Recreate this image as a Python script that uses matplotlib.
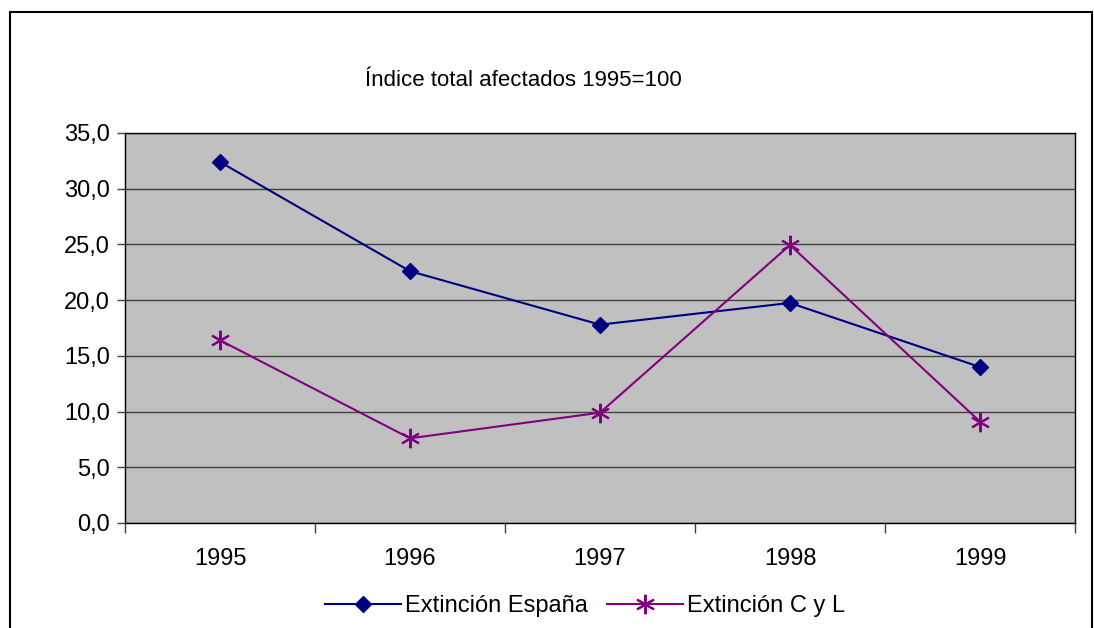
import matplotlib.pyplot as plt
from matplotlib.ticker import FixedLocator, FuncFormatter

years = ['1995', '1996', '1997', '1998', '1999']
espana = [32.4, 22.6, 17.8, 19.75, 14.0]
cyl = [16.4, 7.6, 9.9, 24.95, 9.1]
yticks = [0, 5, 10, 15, 20, 25, 30, 35]

plt.rcParams['font.family'] = ['Liberation Sans', 'DejaVu Sans']

fig = plt.figure(figsize=(10.94, 6.28), dpi=100)
fig.patch.set_facecolor('white')
ax = fig.add_axes([125 / 1094, 1 - 523 / 628, 950 / 1094, 390 / 628])
ax.set_facecolor('#C0C0C0')

# outer chart border
border = plt.Rectangle((10 / 1094, -0.05), 1082 / 1094, 1.05 - 12 / 628,
                       transform=fig.transFigure, fill=False,
                       edgecolor='black', linewidth=1.5)
fig.patches.append(border)

x = range(len(years))
ax.plot(x, espana, color='#000080', linewidth=1.5, marker='D', markersize=8,
        label='Extinción España', zorder=3)
ax.plot(x, cyl, color='#800080', linewidth=1.5, marker=(6, 2, 0), markersize=14,
        markeredgewidth=1.5, label='Extinción C y L', zorder=3)

ax.set_xlim(-0.5, len(years) - 0.5)
ax.set_ylim(0, 35)
ax.set_yticks(yticks)
ax.yaxis.set_major_formatter(FuncFormatter(lambda v, p: f'{v:.1f}'.replace('.', ',')))
ax.grid(axis='y', color='#404040', linewidth=1)
ax.set_axisbelow(True)

ax.set_xticks(list(x))
ax.set_xticklabels(years)
ax.xaxis.set_minor_locator(FixedLocator([i - 0.5 for i in range(len(years) + 1)]))
ax.tick_params(axis='x', which='major', length=0, pad=18, labelsize=17)
ax.tick_params(axis='x', which='minor', length=7, width=1, color='#404040')
ax.tick_params(axis='y', length=6, width=1, color='#404040', pad=5, labelsize=17)

for s in ax.spines.values():
    s.set_color('black')
    s.set_linewidth(1)

fig.text(523 / 1094, 1 - 81 / 628, 'Índice total afectados 1995=100',
         ha='center', va='center', fontsize=16)

fig.legend(loc='center', bbox_to_anchor=(0.535, 1 - 606 / 628), ncol=2,
           frameon=False, fontsize=17, handlelength=3.2, handletextpad=0.2,
           columnspacing=0.8)

plt.savefig('out.png', dpi=100, facecolor='white')
plt.close()
